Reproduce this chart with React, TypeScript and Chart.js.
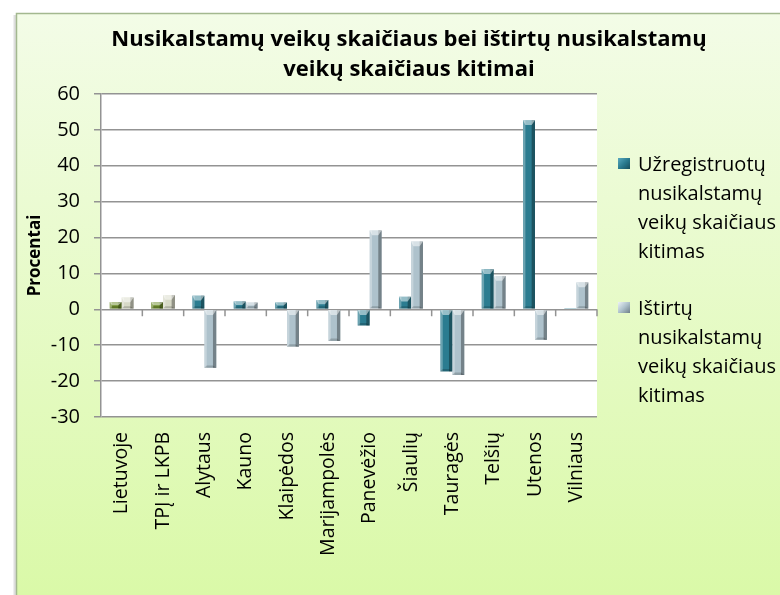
import React, { useEffect, useRef } from 'react';
import { Chart, registerables } from 'chart.js';

Chart.register(...registerables);

const categories = ['Lietuvoje', 'TPĮ ir LKPB', 'Alytaus', 'Kauno', 'Klaipėdos', 'Marijampolės', 'Panevėžio', 'Šiaulių', 'Tauragės', 'Telšių', 'Utenos', 'Vilniaus'];
const registered = [2.0, 2.0, 3.8, 2.2, 1.9, 2.6, -4.5, 3.5, -17.3, 11.2, 52.7, 0.3];
const investigated = [3.3, 4.0, -16.3, 1.9, -10.4, -8.8, 22.0, 18.9, -18.3, 9.3, -8.5, 7.5];
const yMin = -30;
const yMax = 60;
const yStep = 10;
const titleLines = ['Nusikalstamų veikų skaičiaus bei ištirtų nusikalstamų', 'veikų skaičiaus kitimai'];
const seriesNames = ['Užregistruotų nusikalstamų veikų skaičiaus kitimas', 'Ištirtų nusikalstamų veikų skaičiaus kitimas'];
const legendLines1 = ['Užregistruotų', 'nusikalstamų', 'veikų skaičiaus', 'kitimas'];
const legendLines2 = ['Ištirtų', 'nusikalstamų', 'veikų skaičiaus', 'kitimas'];
const yTitle = 'Procentai';

const FONT = "'Open Sans', 'Noto Sans', sans-serif";
const GREEN = '#6F8E2E';
const TEAL = '#2B7C90';
const PALE = '#D7D9C7';
const GRAYBLUE = '#AEC2CC';
const GRID = '#939393';

const decor = {
  id: 'decor',
  beforeDraw(chart: any) {
    const { ctx, width, height, chartArea: a } = chart;
    ctx.save();
    ctx.fillStyle = '#ffffff';
    ctx.fillRect(0, 0, width, height);
    const g = ctx.createLinearGradient(0, 13, 0, height);
    g.addColorStop(0, '#F3FCE7');
    g.addColorStop(1, '#DAF9A8');
    ctx.fillStyle = g;
    ctx.fillRect(16, 13, width - 16, height - 13);
    ctx.fillStyle = 'rgba(0,0,0,0.13)';
    ctx.fillRect(13.5, 15, 2.5, height);
    ctx.strokeStyle = '#A3B88F';
    ctx.lineWidth = 1.5;
    ctx.beginPath();
    ctx.moveTo(16.5, height);
    ctx.lineTo(16.5, 13.5);
    ctx.lineTo(width, 13.5);
    ctx.stroke();
    ctx.fillStyle = '#ffffff';
    ctx.fillRect(a.left, a.top, a.right - a.left, a.bottom - a.top);
    ctx.restore();
  },
  afterDatasetsDraw(chart: any) {
    const { ctx } = chart;
    ctx.save();
    chart.data.datasets.forEach((_ds: any, di: number) => {
      const meta = chart.getDatasetMeta(di);
      meta.data.forEach((el: any) => {
        const { x, y, base, width } = el.getProps(['x', 'y', 'base', 'width'], true);
        const x0 = x - width / 2;
        const x1 = x + width / 2;
        const top = Math.min(y, base);
        const bot = Math.max(y, base);
        const h = bot - top;
        if (h < 0.5) return;
        const l = width * 0.2;
        const r = width * 0.28;
        const c = Math.min(width * 0.4, h / 2);
        ctx.fillStyle = 'rgba(255,255,255,0.30)';
        ctx.fillRect(x0, top, l, h);
        ctx.fillStyle = 'rgba(0,0,0,0.33)';
        ctx.fillRect(x1 - r, top, r, h);
        ctx.fillStyle = 'rgba(255,255,255,0.5)';
        ctx.beginPath();
        ctx.moveTo(x0, top);
        ctx.lineTo(x1, top);
        ctx.lineTo(x1 - r, top + c);
        ctx.lineTo(x0 + l, top + c);
        ctx.closePath();
        ctx.fill();
        ctx.fillStyle = 'rgba(0,0,0,0.18)';
        const cb = Math.min(width * 0.2, h / 2);
        ctx.beginPath();
        ctx.moveTo(x0, bot);
        ctx.lineTo(x1, bot);
        ctx.lineTo(x1 - r, bot - cb);
        ctx.lineTo(x0 + l, bot - cb);
        ctx.closePath();
        ctx.fill();
      });
    });
    ctx.restore();
  },
  afterDraw(chart: any) {
    const { ctx } = chart;
    const xs = chart.scales.x;
    const ys = chart.scales.y;
    const y0 = ys.getPixelForValue(0);
    const n = categories.length;
    ctx.save();
    ctx.strokeStyle = GRID;
    ctx.lineWidth = 1.5;
    ctx.beginPath();
    for (let i = 1; i <= n; i++) {
      const px = i < n ? (xs.getPixelForTick(i - 1) + xs.getPixelForTick(i)) / 2 : xs.right;
      ctx.moveTo(px, y0);
      ctx.lineTo(px, y0 + 7);
    }
    ctx.stroke();
    ctx.restore();
  },
};

export default function App() {
  const ref = useRef<HTMLCanvasElement | null>(null);

  useEffect(() => {
    if (!ref.current) return;
    const chart = new Chart(ref.current, {
      type: 'bar',
      data: {
        labels: categories,
        datasets: [
          {
            label: seriesNames[0],
            data: registered,
            backgroundColor: categories.map((_, i) => (i < 2 ? GREEN : TEAL)),
            borderWidth: 0,
            categoryPercentage: 0.58,
            barPercentage: 1,
          },
          {
            label: seriesNames[1],
            data: investigated,
            backgroundColor: categories.map((_, i) => (i < 2 ? PALE : GRAYBLUE)),
            borderWidth: 0,
            categoryPercentage: 0.58,
            barPercentage: 1,
          },
        ],
      },
      options: {
        responsive: false,
        animation: false,
        devicePixelRatio: 1,
        layout: { padding: { left: 19, right: 183, top: 94, bottom: 0 } },
        plugins: {
          legend: { display: false },
          title: { display: false },
          tooltip: { enabled: false },
        },
        scales: {
          x: {
            grid: { display: false, drawTicks: false },
            border: { display: false },
            ticks: {
              autoSkip: false,
              maxRotation: 90,
              minRotation: 90,
              padding: 15,
              color: '#000',
              font: { family: FONT, size: 19.5 },
            },
            afterFit(scale: any) {
              scale.height = 178;
            },
          },
          y: {
            min: yMin,
            max: yMax,
            ticks: {
              stepSize: yStep,
              padding: 14,
              color: '#000',
              font: { family: FONT, size: 20 },
            },
            grid: { color: GRID, lineWidth: 1.5, tickLength: 7, drawTicks: true },
            border: { color: GRID, width: 1.5 },
            title: {
              display: true,
              text: yTitle,
              color: '#000',
              font: { family: FONT, size: 17, weight: 'bold' },
              padding: { top: 6, bottom: 0 },
            },
            afterFit(scale: any) {
              scale.width = 82;
            },
          },
        },
      },
      plugins: [decor],
    });
    return () => chart.destroy();
  }, []);

  const legendText: React.CSSProperties = {
    position: 'absolute',
    left: 638,
    fontFamily: FONT,
    fontSize: 20,
    lineHeight: '29px',
    color: '#000',
    whiteSpace: 'nowrap',
  };
  const box = (bg: string, top: number): React.CSSProperties => ({
    position: 'absolute',
    left: 618,
    top,
    width: 12,
    height: 11,
    background: bg,
  });

  return (
    <div style={{ position: 'fixed', left: 0, top: 0, width: 780, height: 595, overflow: 'hidden' }}>
      <canvas ref={ref} width={780} height={595} style={{ display: 'block' }} />
      <div
        style={{
          position: 'absolute',
          left: 0,
          top: 21.5,
          width: 818,
          textAlign: 'center',
          fontFamily: FONT,
          fontWeight: 'bold',
          fontSize: 22,
          lineHeight: '30px',
          color: '#000',
          whiteSpace: 'nowrap',
        }}
      >
        {titleLines.map((t) => (
          <div key={t}>{t}</div>
        ))}
      </div>
      <div style={box('linear-gradient(135deg, #5BAAC0 0%, #2B7C90 50%, #174E5C 100%)', 158)} />
      <div style={{ ...legendText, top: 148.5 }}>
        {legendLines1.map((t) => (
          <div key={t}>{t}</div>
        ))}
      </div>
      <div style={box('linear-gradient(135deg, #EEF3F6 0%, #AEC2CC 50%, #6E7F88 100%)', 302)} />
      <div style={{ ...legendText, top: 292.5 }}>
        {legendLines2.map((t) => (
          <div key={t}>{t}</div>
        ))}
      </div>
    </div>
  );
}
